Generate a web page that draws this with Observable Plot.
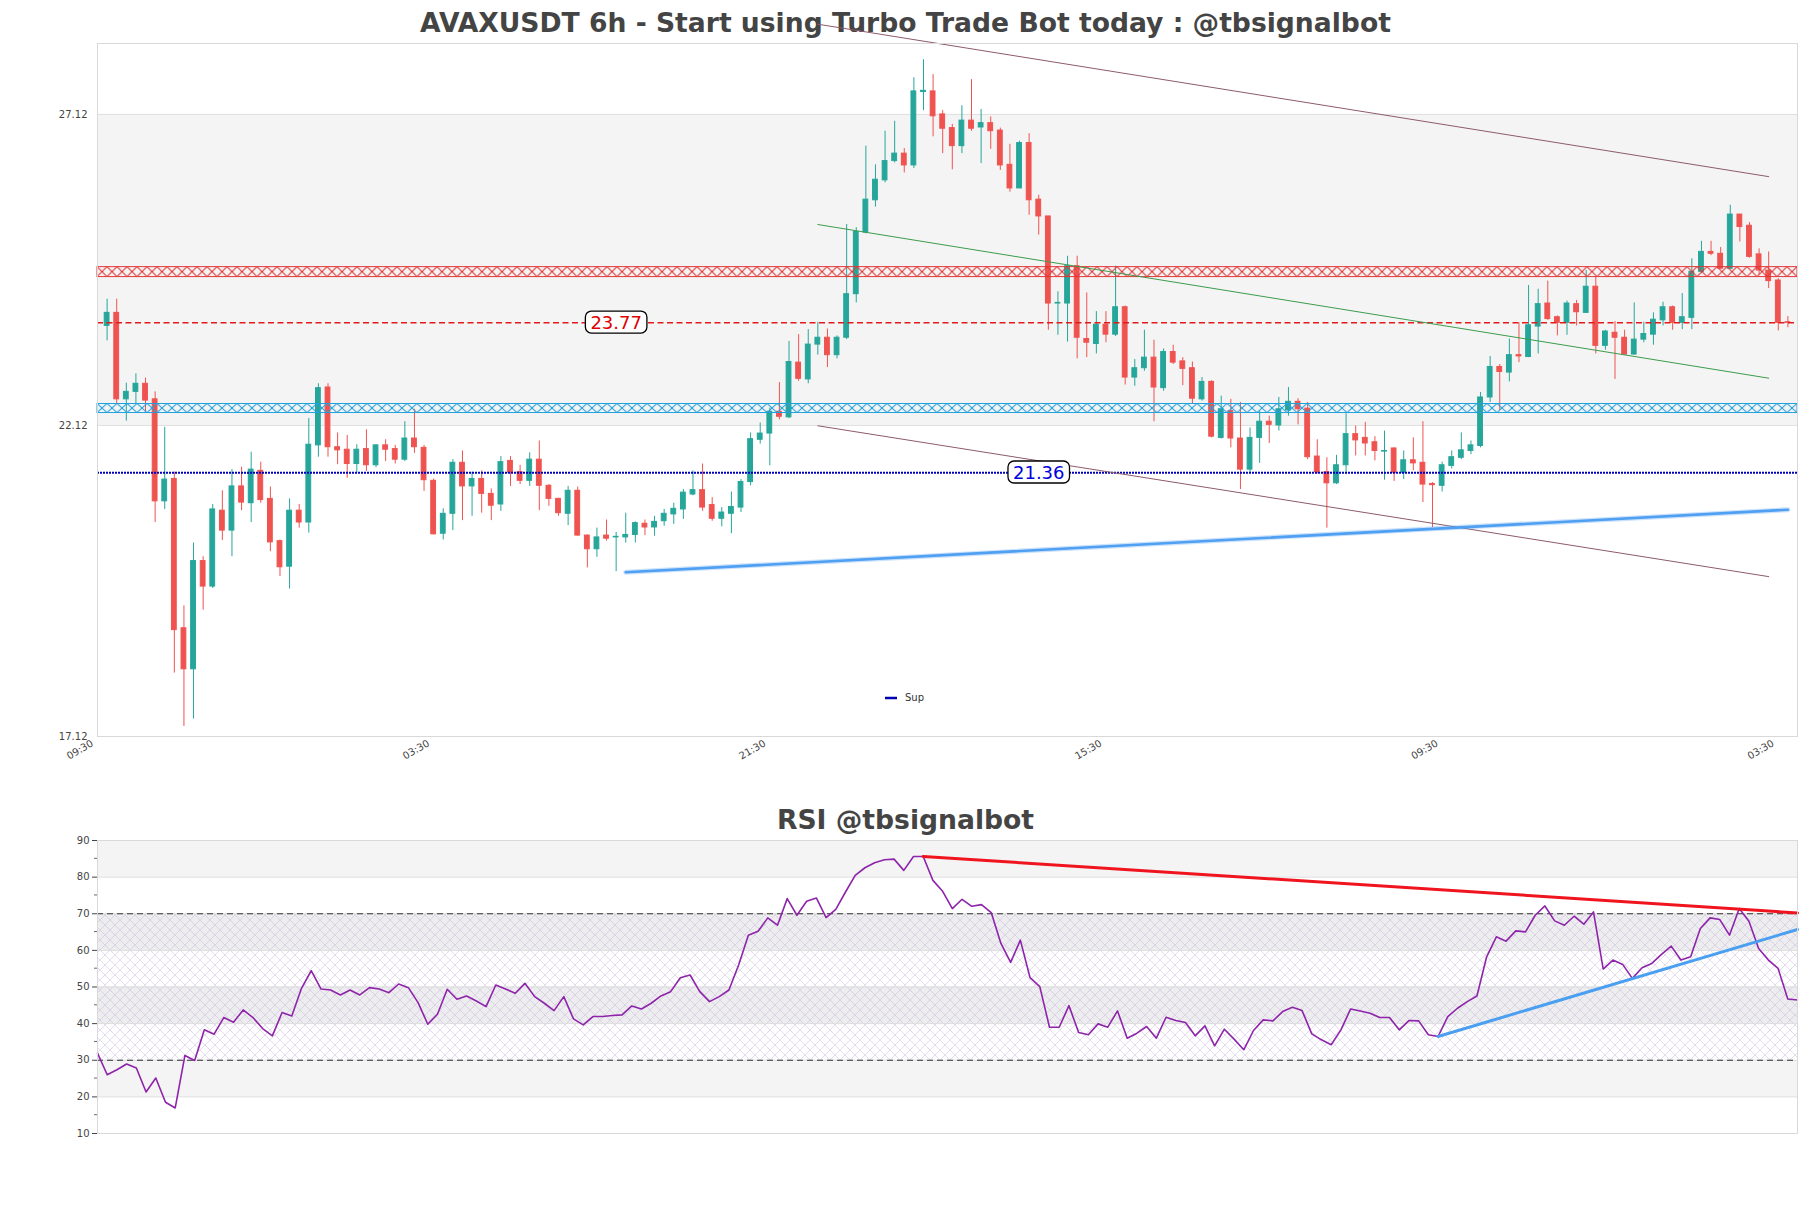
<!DOCTYPE html>
<html><head><meta charset="utf-8">
<script src="https://cdn.jsdelivr.net/npm/d3@7"></script>
<script src="https://cdn.jsdelivr.net/npm/@observablehq/plot@0.6"></script>
<style>
body{margin:0;background:#fff;font-family:"DejaVu Sans",sans-serif;}
#wrap{width:1811px;}
.title{font-weight:bold;font-size:26.6px;color:#444;text-align:center;white-space:nowrap;}
</style></head><body><div id="wrap"></div>
<script>
// ---------- data ----------
const opens  = [23.72,23.93,22.54,22.66,22.79,22.54,20.90,21.26,18.86,18.20,19.94,19.53,20.75,20.43,21.14,20.87,21.39,20.94,20.26,19.85,20.75,20.56,21.80,22.73,21.77,21.73,21.50,21.74,21.48,21.80,21.74,21.57,21.91,21.76,21.23,20.38,20.70,21.52,21.14,21.26,21.02,20.85,21.55,21.37,21.23,21.57,21.15,20.94,20.70,21.07,20.35,20.13,20.35,20.32,20.32,20.36,20.54,20.48,20.58,20.69,20.77,21.01,21.08,20.84,20.62,20.70,20.80,21.21,21.89,21.99,22.34,22.25,23.13,22.86,23.42,23.53,23.25,23.53,24.23,25.22,25.74,26.06,26.37,26.49,26.30,27.48,27.49,27.12,26.90,26.61,27.02,26.91,26.98,26.86,26.31,25.93,26.66,25.75,25.48,24.08,24.08,24.68,23.51,23.43,23.74,23.58,24.02,22.89,23.04,23.21,22.72,23.30,23.15,23.04,22.54,22.82,21.92,22.35,21.91,21.41,21.92,22.18,22.12,22.36,22.50,22.39,21.62,21.37,21.19,21.48,21.98,21.92,21.85,21.70,21.75,21.36,21.56,21.52,21.18,21.15,21.47,21.60,21.71,21.79,22.57,23.06,22.97,23.25,23.22,23.71,24.08,23.86,23.77,24.07,23.93,24.35,23.40,23.61,23.53,23.26,23.50,23.58,23.81,24.02,23.77,23.85,24.59,24.91,24.88,24.64,25.51,25.33,24.87,24.61,24.45,23.78];
const highs  = [24.15,24.15,22.80,22.95,22.88,22.66,22.09,21.37,19.22,20.23,20.01,20.85,21.07,21.41,21.45,21.69,21.53,21.13,20.28,20.94,20.85,22.23,22.79,22.79,22.00,21.96,21.81,22.05,21.81,21.89,21.80,22.18,22.38,21.80,21.26,20.78,21.57,21.71,21.37,21.39,21.10,21.62,21.62,21.48,21.68,21.87,21.17,20.95,21.14,21.13,20.36,20.47,20.60,20.40,20.71,20.57,20.60,20.66,20.77,20.87,21.09,21.39,21.50,20.96,20.80,21.05,21.25,22.00,22.16,22.40,22.81,23.47,23.58,23.66,23.78,23.67,23.56,25.35,25.30,26.61,26.31,26.85,27.01,26.57,27.71,28.00,27.76,27.18,26.96,27.26,27.68,27.20,27.08,26.90,26.64,26.69,26.81,25.82,25.48,24.27,24.84,24.84,24.25,23.95,23.95,24.68,24.04,23.18,23.65,23.49,23.35,23.41,23.21,23.14,22.89,22.84,22.59,22.54,22.49,22.08,22.35,22.27,22.57,22.73,22.55,22.49,21.89,21.60,21.64,22.31,22.11,22.17,21.94,22.03,21.76,21.71,21.92,22.18,21.20,21.53,21.71,22.00,21.87,22.65,23.23,23.10,23.51,23.77,24.37,24.31,24.44,23.88,24.12,24.13,24.61,24.51,23.65,23.79,23.65,24.09,23.78,23.93,24.10,24.04,24.24,24.80,25.08,25.08,24.98,25.66,25.51,25.38,24.96,24.91,24.48,23.87];
const lows   = [23.48,22.46,22.19,22.46,22.32,20.56,20.77,18.14,17.28,17.40,19.15,19.50,20.27,20.01,20.75,20.56,20.87,20.09,19.69,19.49,20.47,20.39,21.61,21.61,21.49,21.27,21.36,21.38,21.44,21.54,21.50,21.54,21.67,21.06,20.36,20.28,20.43,20.59,20.66,20.71,20.59,20.74,21.14,21.17,21.14,20.75,20.82,20.66,20.51,20.34,19.83,20.00,20.26,19.77,20.23,20.23,20.35,20.34,20.50,20.53,20.61,20.99,20.74,20.58,20.49,20.38,20.72,21.15,21.82,21.47,22.21,22.23,22.83,22.79,23.25,23.05,23.19,23.50,24.09,25.20,25.63,26.02,26.34,26.18,26.25,27.18,26.76,26.49,26.23,26.49,26.85,26.33,26.56,26.22,25.87,25.93,25.50,25.18,23.65,23.57,23.46,23.19,23.21,23.27,23.45,23.55,22.77,22.75,22.99,22.18,22.67,23.10,22.76,22.47,22.51,21.92,21.90,21.76,21.09,21.36,21.51,21.83,22.03,22.27,22.13,21.57,21.34,20.47,21.17,21.33,21.63,21.63,21.55,21.24,21.22,21.25,21.39,20.88,20.48,21.05,21.42,21.57,21.65,21.76,22.49,22.36,22.82,23.13,23.21,23.27,23.81,23.56,23.57,23.72,23.92,23.27,23.33,22.86,23.25,23.25,23.45,23.41,23.72,23.65,23.66,23.66,24.56,24.85,24.63,24.63,25.07,24.81,24.54,24.32,23.64,23.69];
const closes = [23.93,22.54,22.66,22.79,22.52,20.90,21.25,18.83,18.20,19.94,19.53,20.77,20.43,21.14,20.88,21.41,20.92,20.24,19.84,20.75,20.56,21.81,22.72,21.77,21.72,21.50,21.73,21.48,21.80,21.73,21.57,21.91,21.77,21.24,20.37,20.70,21.52,21.14,21.26,21.02,20.83,21.53,21.36,21.23,21.57,21.15,20.94,20.71,21.07,20.35,20.13,20.32,20.30,20.33,20.36,20.55,20.48,20.57,20.70,20.78,21.04,21.08,20.80,20.62,20.72,20.81,21.21,21.90,21.99,22.34,22.26,23.14,22.87,23.42,23.53,23.25,23.53,24.23,25.23,25.75,26.07,26.37,26.49,26.30,27.49,27.50,27.09,26.89,26.61,27.02,26.89,26.98,26.85,26.30,25.93,26.66,25.74,25.48,24.08,24.09,24.68,23.53,23.45,23.74,23.58,24.02,22.89,23.04,23.21,22.73,23.30,23.13,23.03,22.55,22.82,21.94,22.38,21.91,21.41,21.92,22.18,22.13,22.38,22.50,22.38,21.61,21.37,21.19,21.48,21.98,21.88,21.83,21.71,21.71,21.36,21.56,21.51,21.17,21.16,21.48,21.61,21.72,21.80,22.57,23.06,22.98,23.25,23.23,23.73,24.07,23.83,23.77,24.08,23.94,24.35,23.40,23.63,23.53,23.26,23.50,23.59,23.82,24.02,23.77,23.86,24.59,24.91,24.88,24.64,25.51,25.31,24.83,24.61,24.44,23.77,23.77];
const rsi = [31.95,26.05,27.41,28.96,27.87,21.34,25.15,18.53,16.98,31.32,29.95,38.30,37.12,41.66,40.39,43.74,41.66,38.66,36.67,43.02,42.11,49.64,54.44,49.46,49.18,47.82,49.18,47.82,49.82,49.46,48.46,50.82,49.82,45.74,39.84,42.56,49.37,46.64,47.55,46.19,44.65,50.54,49.46,48.28,51.00,47.37,45.56,43.56,47.37,41.29,39.66,41.93,41.93,
  42.20,42.38,44.83,44.01,45.56,47.55,48.73,52.54,53.27,48.73,46.01,47.37,49.18,55.99,64.15,65.24,68.87,66.87,74.13,69.59,73.40,74.31,68.96,71.22,75.94,80.48,82.56,83.92,84.74,84.92,81.84,85.65,85.65,79.12,76.12,71.41,73.95,72.04,72.49,70.32,61.88,56.71,62.79,52.54,50.09,39.02,39.02,44.92,37.57,36.94,39.93,39.02,43.47,36.03,37.39,39.21,36.03,41.75,40.84,40.29,36.67,39.39,33.95,
  38.48,35.76,32.86,38.12,41.02,40.75,43.29,44.47,43.56,37.21,35.58,34.22,38.30,44.01,43.47,42.83,41.66,41.66,38.30,40.84,40.75,36.94,36.49,41.93,44.20,46.01,47.55,58.25,63.70,62.52,65.33,65.06,69.59,72.13,68.05,66.87,69.32,67.14,70.50,54.90,57.35,56.17,52.36,55.26,56.44,58.89,61.16,57.35,58.25,65.96,68.87,68.41,64.15,71.41,67.96,60.52,57.35,55.08,46.73,46.46];

const xTickIdx = [0, 35, 70, 105, 140, 175];
const xTickLabels = ["09:30", "03:30", "21:30", "15:30", "09:30", "03:30"];
const yTicksMain = [17.12, 22.12, 27.12];
const resistance = 23.77, support = 21.36;
const labelIdx = [54, 98];
const grayZone = [22.12, 27.12];
const zoneRed = [24.505, 24.665];
const zoneBlue = [22.32, 22.465];
const channelUpper = [{i: 75, p: 28.57}, {i: 174, p: 26.12}];
const channelLower = [{i: 75, p: 22.115}, {i: 174, p: 19.69}];
const channelMid = [{i: 75, p: 25.35}, {i: 174, p: 22.88}];
const supTrend = [{i: 55, p: 19.76}, {i: 176, p: 20.765}];
const rsiRes = [{j: 85, v: 85.65}, {j: 175, v: 70.23}];
const rsiSup = [{j: 138, v: 36.49}, {j: 175, v: 65.7}];
const rsiLightBands = [[80, 90], [20, 30]];
const rsiMidBands = [[60, 70], [40, 50]];
const rsiHatchZone = [[30, 70]];
const rsiGrid = [20, 30, 40, 50, 60, 70, 80];
const rsiLevels = [70, 30];
const rsiMinor = [15, 25, 35, 45, 55, 65, 75, 85];

// ---------- build ----------
const W = 1811;
const NS = "http://www.w3.org/2000/svg";
const candles = opens.map((o, k) => ({i: k + 1, o, h: highs[k], l: lows[k], c: closes[k]}));
const upC = candles.filter(d => d.c >= d.o), dnC = candles.filter(d => d.c < d.o);
const UP = "#26a69a", DN = "#ef5350";
const font = {fontFamily: "'DejaVu Sans', sans-serif", fontSize: "10px", color: "#444", background: "transparent", overflow: "visible"};

const wrap = document.getElementById("wrap");
const t1 = document.createElement("div");
t1.className = "title"; t1.style.height = "43px"; t1.style.lineHeight = "46px";
t1.textContent = "AVAXUSDT 6h - Start using Turbo Trade Bot today : @tbsignalbot";
wrap.appendChild(t1);

function legendMark(index, scales, values, dims) {
  const cx = dims.marginLeft + (dims.width - dims.marginLeft - dims.marginRight) / 2;
  const yb = dims.height - dims.marginBottom - 38;
  const g = d3.create("svg:g");
  g.append("line").attr("x1", cx - 62).attr("x2", cx - 50).attr("y1", yb).attr("y2", yb)
    .attr("stroke", "#0000b0").attr("stroke-width", 2.5);
  g.append("text").attr("x", cx - 42).attr("y", yb).attr("dy", "0.32em").attr("text-anchor", "start")
    .attr("font-size", 10).attr("fill", "#333").text("Sup");
  return g.node();
}

const main = Plot.plot({
  width: W, height: 757,
  marginTop: 0, marginBottom: 64, marginLeft: 97, marginRight: 14,
  style: font,
  x: {domain: [0, 177], ticks: xTickIdx, tickFormat: d => xTickLabels[xTickIdx.indexOf(d)], tickRotate: -30, tickSize: 0, tickPadding: 6, label: null},
  y: {domain: [17.12, 28.26], ticks: yTicksMain, tickFormat: d => d.toFixed(2), tickSize: 0, tickPadding: 10, label: null},
  marks: [
    Plot.rect([grayZone], {y1: d => d[0], y2: d => d[1], fill: "#f4f4f4"}),
    Plot.ruleY(yTicksMain, {stroke: "#e0e0e0"}),
    Plot.ruleX(upC, {x: "i", y1: "l", y2: "h", stroke: UP, strokeWidth: 1}),
    Plot.ruleX(dnC, {x: "i", y1: "l", y2: "h", stroke: DN, strokeWidth: 1}),
    Plot.rect(upC, {x1: d => d.i - 0.25, x2: d => d.i + 0.25, y1: "o", y2: "c", fill: UP, stroke: UP, strokeWidth: 1}),
    Plot.rect(dnC, {x1: d => d.i - 0.25, x2: d => d.i + 0.25, y1: "o", y2: "c", fill: DN, stroke: DN, strokeWidth: 1}),
    Plot.rect([zoneRed], {y1: d => d[0], y2: d => d[1], fill: "url(#hatchRed)", stroke: "#e23636", strokeWidth: 1}),
    Plot.rect([zoneBlue], {y1: d => d[0], y2: d => d[1], fill: "url(#hatchBlue)", stroke: "#22a0dc", strokeWidth: 1}),
    Plot.ruleY([resistance], {stroke: "#e31a1c", strokeWidth: 1.4, strokeDasharray: "6,3.5"}),
    Plot.ruleY([support], {stroke: "#0000c0", strokeWidth: 2.2, strokeDasharray: "2,1"}),
    Plot.line(channelUpper, {x: "i", y: "p", stroke: "#8d5b6a", strokeWidth: 1}),
    Plot.line(channelLower, {x: "i", y: "p", stroke: "#8d5b6a", strokeWidth: 1}),
    Plot.line(channelMid, {x: "i", y: "p", stroke: "#3c9c4c", strokeWidth: 1}),
    Plot.line(supTrend, {x: "i", y: "p", stroke: "#4f9ff2", strokeWidth: 5, strokeOpacity: 0.3}),
    Plot.line(supTrend, {x: "i", y: "p", stroke: "#4f9ff2", strokeWidth: 2.6}),
    Plot.text([{i: labelIdx[0], p: resistance, t: resistance.toFixed(2)}], {x: "i", y: "p", text: "t", fill: "#e00000", fontSize: 18}),
    Plot.text([{i: labelIdx[1], p: support, t: support.toFixed(2)}], {x: "i", y: "p", text: "t", fill: "#0000dd", fontSize: 18}),
    Plot.frame({stroke: "#d9d9d9"}),
    legendMark
  ]
});
wrap.appendChild(main);

{
  const ys = main.scale("y"), xs = main.scale("x");
  const x0 = xs.apply(0);
  const defs = document.createElementNS(NS, "defs");
  const mk = (id, zone, color) => {
    const top = ys.apply(zone[1]), h = ys.apply(zone[0]) - top;
    return `<pattern id="${id}" patternUnits="userSpaceOnUse" x="${x0}" y="${top}" width="10" height="${h}">` +
      `<path d="M0,0L10,${h}M10,0L0,${h}" stroke="${color}" stroke-width="1.1" fill="none"/></pattern>`;
  };
  defs.innerHTML = mk("hatchRed", zoneRed, "#e23636") + mk("hatchBlue", zoneBlue, "#22a0dc");
  main.insertBefore(defs, main.firstChild);
  const tickSet = new Set(xTickLabels);
  main.querySelectorAll("text").forEach(t => {
    const s = t.textContent;
    if (s === resistance.toFixed(2) || s === support.toFixed(2)) {
      const b = t.getBBox();
      const r = document.createElementNS(NS, "rect");
      r.setAttribute("x", b.x - 5); r.setAttribute("y", b.y - 0.5);
      r.setAttribute("width", b.width + 10); r.setAttribute("height", b.height + 1);
      r.setAttribute("rx", 6); r.setAttribute("fill", "white");
      r.setAttribute("stroke", "black"); r.setAttribute("stroke-width", 1.3);
      if (t.getAttribute("transform")) r.setAttribute("transform", t.getAttribute("transform"));
      t.parentNode.insertBefore(r, t);
    } else if (tickSet.has(s)) {
      // nudge rotated time labels so their ends sit just left of the tick
      t.setAttribute("transform", "translate(-5,0) " + (t.getAttribute("transform") || ""));
    }
  });
}

const t2 = document.createElement("div");
t2.className = "title"; t2.style.height = "30px"; t2.style.lineHeight = "40px";
t2.textContent = "RSI @tbsignalbot";
wrap.appendChild(t2);

function minorTicks(index, scales, values, dims) {
  const g = d3.create("svg:g").attr("stroke", "#444").attr("stroke-width", 0.8);
  for (const v of rsiMinor) {
    const y = scales.y(v);
    g.append("line").attr("x1", dims.marginLeft - 3).attr("x2", dims.marginLeft).attr("y1", y).attr("y2", y);
  }
  return g.node();
}

const rsiData = rsi.map((v, j) => ({j, v}));
const rsiPlot = Plot.plot({
  width: W, height: 323,
  marginTop: 10, marginBottom: 20, marginLeft: 97, marginRight: 14,
  style: font,
  x: {domain: [0, 175], axis: null},
  y: {domain: [10, 90], ticks: d3.range(10, 91, 10), tickSize: 5, tickPadding: 3, label: null},
  marks: [
    Plot.rect(rsiLightBands, {y1: d => d[0], y2: d => d[1], fill: "#f4f4f4"}),
    Plot.rect(rsiMidBands, {y1: d => d[0], y2: d => d[1], fill: "#ededef"}),
    Plot.rect(rsiHatchZone, {y1: d => d[0], y2: d => d[1], fill: "url(#rsiHatch)"}),
    Plot.ruleY(rsiGrid, {stroke: "#dcdcdc"}),
    Plot.ruleY(rsiLevels, {stroke: "#333", strokeWidth: 1.1, strokeDasharray: "6,4"}),
    Plot.line(rsiData, {x: "j", y: "v", stroke: "#8e24aa", strokeWidth: 1.6}),
    Plot.line(rsiRes, {x: "j", y: "v", stroke: "#f0141e", strokeWidth: 3}),
    Plot.line(rsiSup, {x: "j", y: "v", stroke: "#4a9ff0", strokeWidth: 3}),
    Plot.frame({stroke: "#d9d9d9"}),
    minorTicks
  ]
});
{
  const defs = document.createElementNS(NS, "defs");
  defs.innerHTML = `<pattern id="rsiHatch" patternUnits="userSpaceOnUse" width="10" height="10">` +
    `<path d="M0,0L10,10M10,0L0,10" stroke="#c4b6d6" stroke-width="0.6" stroke-opacity="0.8" fill="none"/></pattern>`;
  rsiPlot.insertBefore(defs, rsiPlot.firstChild);
}
wrap.appendChild(rsiPlot);
</script>
</body></html>
